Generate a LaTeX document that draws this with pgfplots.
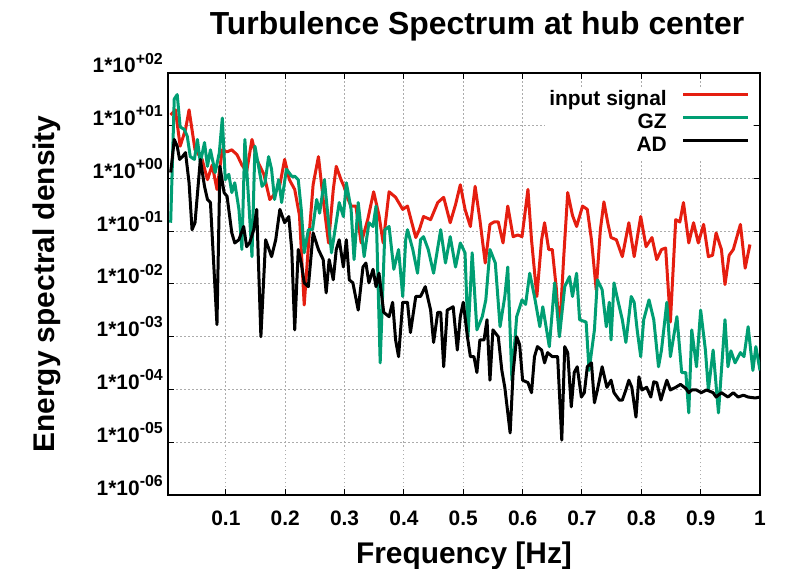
\documentclass[border=0pt]{standalone}
\usepackage{fontspec}
\setmainfont{Liberation Sans}
\usepackage{pgfplots}
\pgfplotsset{compat=1.18}
\definecolor{gpred}{HTML}{E51E10}
\definecolor{gpgreen}{HTML}{009E73}
\newcommand{\sups}[1]{\raisebox{0.42em}{\fontsize{16}{16}\selectfont\bfseries #1}}
\begin{document}
\begin{tikzpicture}[x=1bp,y=1bp]
\path[use as bounding box] (0,0) rectangle (793,569);
\node[font=\fontsize{32}{36}\selectfont\bfseries, anchor=base] at (477,534) {Turbulence Spectrum at hub center};
\begin{axis}[
  at={(168bp,74bp)}, anchor=south west,
  width=592bp, height=422bp, scale only axis,
  ymode=log, xmin=0.0025, xmax=1, ymin=1e-6, ymax=1e2,
  xtick={0.1,0.2,0.3,0.4,0.5,0.6,0.7,0.8,0.9,1},
  xticklabels={0.1,0.2,0.3,0.4,0.5,0.6,0.7,0.8,0.9,1},
  ytick={1e-6,1e-5,1e-4,1e-3,1e-2,1e-1,1,1e1,1e2},
  yticklabels={1*10\sups{-06},1*10\sups{-05},1*10\sups{-04},1*10\sups{-03},1*10\sups{-02},1*10\sups{-01},1*10\sups{+00},1*10\sups{+01},1*10\sups{+02}},
  yminorticks=false,
  xticklabel style={font=\fontsize{21}{24}\selectfont\bfseries, anchor=base, yshift=-30bp},
  yticklabel style={font=\fontsize{21}{24}\selectfont\bfseries, anchor=base east, inner sep=0pt, xshift=-5bp},
  xlabel={Frequency [Hz]},
  ylabel={Energy spectral density},
  xlabel style={font=\fontsize{30}{34}\selectfont\bfseries, at={(axis description cs:0.5,0)}, anchor=base, yshift=-68bp},
  ylabel style={font=\fontsize{30}{34}\selectfont\bfseries, at={(axis description cs:-0.192,0.5)}, anchor=base, rotate=0},
  axis line style={line width=2.5bp},
  major tick length=6bp,
  tick style={black, line width=1bp},
  grid=major,
  grid style={gray!65, line width=1bp, dash pattern=on 1.5bp off 2.5bp},
  legend plot pos=right,
  legend cell align=right,
  legend style={at={(rel axis cs:0.988,0.967)}, anchor=north east, draw=none, fill=white,
    font=\fontsize{21}{24}\selectfont\bfseries, column sep=14bp, row sep=1bp,
    nodes={inner sep=1bp, text height=15bp, text depth=5bp}},
  legend image code/.code={\draw[#1] (0bp,6bp) -- (65bp,6bp);},
  every axis plot/.append style={line width=3bp, line join=round, mark=none},
]
\addplot[gpred] coordinates {
(0.007,16) (0.015,20) (0.023,4.1) (0.032,8.5) (0.038,20) (0.048,3.5) (0.060,2.3) (0.069,0.95) (0.077,1.8) (0.085,0.62) (0.094,3.5) (0.102,3.2) (0.110,3.5) (0.119,2.8) (0.127,1.8) (0.135,1.35) (0.144,5.5) (0.152,2.3) (0.164,1.2) (0.174,0.4) (0.181,0.49) (0.191,0.76) (0.199,2.3) (0.207,0.95) (0.216,0.62) (0.224,0.2) (0.232,0.004) (0.241,0.107) (0.247,0.76) (0.256,2.6) (0.264,0.4) (0.273,0.06) (0.281,0.62) (0.286,1.7) (0.294,0.95) (0.299,0.71) (0.306,0.4) (0.311,0.3) (0.319,0.3) (0.328,0.06) (0.339,0.166) (0.349,0.56) (0.358,0.2) (0.365,0.06) (0.375,0.56) (0.386,0.44) (0.398,0.26) (0.406,0.3) (0.413,0.15) (0.420,0.076) (0.426,0.107) (0.433,0.19) (0.445,0.166) (0.457,0.35) (0.467,0.44) (0.478,0.145) (0.487,0.32) (0.495,0.76) (0.503,0.26) (0.512,0.123) (0.520,0.71) (0.528,0.166) (0.537,0.025) (0.545,0.135) (0.552,0.15) (0.559,0.15) (0.567,0.06) (0.575,0.3) (0.584,0.079) (0.592,0.085) (0.599,0.079) (0.609,0.62) (0.615,0.069) (0.624,0.0058) (0.632,0.069) (0.637,0.145) (0.644,0.045) (0.650,0.045) (0.657,0.0078) (0.662,0.0011) (0.669,0.029) (0.676,0.54) (0.684,0.2) (0.691,0.123) (0.701,0.3) (0.709,0.26) (0.716,0.069) (0.724,0.0078) (0.731,0.107) (0.737,0.36) (0.744,0.135) (0.749,0.076) (0.758,0.069) (0.768,0.033) (0.779,0.145) (0.788,0.033) (0.799,0.19) (0.808,0.051) (0.818,0.076) (0.826,0.029) (0.834,0.045) (0.841,0.048) (0.849,0.0019) (0.858,0.166) (0.865,0.15) (0.871,0.35) (0.880,0.06) (0.888,0.145) (0.896,0.06) (0.905,0.135) (0.913,0.033) (0.920,0.035) (0.926,0.093) (0.935,0.045) (0.941,0.0098) (0.948,0.035) (0.955,0.045) (0.967,0.135) (0.975,0.02) (0.983,0.056)
};
\addlegendentry{input signal}
\addplot[gpgreen] coordinates {
(0.007,0.145) (0.013,32) (0.018,39) (0.023,9.5) (0.030,8.5) (0.035,6.3) (0.040,2.6) (0.047,2.3) (0.052,5.5) (0.057,2.0) (0.064,4.8) (0.069,1.7) (0.074,3.5) (0.082,1.3) (0.089,3.1) (0.094,14) (0.099,0.95) (0.105,1.2) (0.110,0.54) (0.115,0.83) (0.122,0.26) (0.127,0.045) (0.132,5.5) (0.139,0.3) (0.144,0.033) (0.149,4.1) (0.156,1.5) (0.161,0.71) (0.166,0.83) (0.172,2.6) (0.177,1.5) (0.182,0.4) (0.189,0.95) (0.194,0.35) (0.202,1.5) (0.211,1.1) (0.216,1.1) (0.222,0.95) (0.227,0.26) (0.232,0.039) (0.239,0.107) (0.246,0.107) (0.253,0.4) (0.258,0.22) (0.266,0.95) (0.278,0.039) (0.291,0.35) (0.298,0.19) (0.303,0.83) (0.311,0.26) (0.316,0.029) (0.323,0.35) (0.328,0.107) (0.333,0.033) (0.341,0.145) (0.348,0.123) (0.353,0.3) (0.360,0.00032) (0.368,0.107) (0.375,0.123) (0.383,0.019) (0.391,0.045) (0.398,0.0058) (0.403,0.069) (0.406,0.107) (0.415,0.045) (0.423,0.016) (0.428,0.069) (0.433,0.079) (0.441,0.045) (0.450,0.016) (0.462,0.107) (0.470,0.025) (0.478,0.079) (0.487,0.021) (0.495,0.06) (0.503,0.039) (0.508,0.001) (0.515,0.039) (0.523,0.00135) (0.532,0.0024) (0.538,0.005) (0.545,0.045) (0.554,0.025) (0.562,0.00155) (0.570,0.0058) (0.575,0.021) (0.582,0.00015) (0.590,0.0024) (0.599,0.005) (0.605,0.0041) (0.612,0.016) (0.620,0.0058) (0.629,0.00155) (0.634,0.0037) (0.645,0.00065) (0.654,0.0105) (0.662,0.001) (0.671,0.0089) (0.679,0.0138) (0.684,0.0058) (0.691,0.016) (0.696,0.0021) (0.707,0.0019) (0.712,0.00023) (0.721,0.00135) (0.726,0.012) (0.734,0.0078) (0.741,0.00155) (0.746,0.0045) (0.749,0.00087) (0.754,0.0105) (0.759,0.0058) (0.768,0.0021) (0.774,0.00078) (0.783,0.0058) (0.788,0.0045) (0.793,0.00135) (0.799,0.00042) (0.804,0.0021) (0.813,0.005) (0.821,0.0021) (0.829,0.00027) (0.834,0.00056) (0.843,0.0045) (0.849,0.00042) (0.860,0.0024) (0.868,0.00021) (0.875,0.00021) (0.880,0.000036) (0.885,0.00135) (0.893,0.00027) (0.900,0.0032) (0.908,0.00056) (0.913,0.000098) (0.921,0.00056) (0.930,0.000036) (0.941,0.0021) (0.946,0.00027) (0.951,0.00054) (0.958,0.00032) (0.967,0.0005) (0.973,0.00042) (0.980,0.00155) (0.988,0.00023) (0.993,0.00065) (1.0,0.00023)
};
\addlegendentry{GZ}
\addplot[black] coordinates {
(0.007,1.3) (0.010,2.6) (0.013,5.5) (0.018,4.1) (0.022,2.3) (0.027,2.6) (0.032,3.1) (0.038,0.83) (0.043,0.107) (0.048,0.145) (0.057,2.3) (0.064,0.71) (0.069,0.4) (0.074,0.35) (0.080,0.019) (0.085,0.0017) (0.090,1.7) (0.097,0.54) (0.102,0.46) (0.110,0.093) (0.115,0.06) (0.122,0.069) (0.130,0.123) (0.135,0.051) (0.140,0.06) (0.147,0.107) (0.152,0.26) (0.159,0.001) (0.167,0.069) (0.177,0.033) (0.184,0.069) (0.191,0.26) (0.199,0.145) (0.206,0.19) (0.211,0.045) (0.216,0.00135) (0.222,0.045) (0.227,0.025) (0.232,0.0105) (0.239,0.0089) (0.247,0.093) (0.256,0.045) (0.264,0.029) (0.269,0.0068) (0.274,0.029) (0.281,0.012) (0.286,0.045) (0.291,0.069) (0.298,0.021) (0.303,0.069) (0.308,0.012) (0.314,0.0105) (0.323,0.0032) (0.331,0.021) (0.336,0.025) (0.341,0.0105) (0.348,0.019) (0.353,0.0089) (0.358,0.016) (0.366,0.0029) (0.375,0.0024) (0.381,0.0045) (0.386,0.00087) (0.391,0.00042) (0.398,0.0045) (0.406,0.0045) (0.411,0.0012) (0.420,0.0058) (0.428,0.0058) (0.436,0.0089) (0.445,0.0032) (0.450,0.00078) (0.457,0.0029) (0.462,0.0029) (0.467,0.00027) (0.473,0.0032) (0.483,0.0037) (0.490,0.00056) (0.495,0.0024) (0.500,0.0045) (0.507,0.001) (0.512,0.00042) (0.518,0.00042) (0.523,0.00021) (0.528,0.00087) (0.535,0.00087) (0.540,0.0021) (0.545,0.00015) (0.550,0.00135) (0.559,0.001) (0.565,0.00023) (0.570,0.00011) (0.579,0.000015) (0.584,0.00021) (0.590,0.001) (0.595,0.00071) (0.600,0.00015) (0.609,0.000135) (0.615,0.000087) (0.620,0.00042) (0.625,0.00065) (0.632,0.00056) (0.637,0.00032) (0.642,0.0005) (0.650,0.00042) (0.659,0.00042) (0.666,0.000011) (0.671,0.00065) (0.676,0.0005) (0.682,0.000047) (0.687,0.00021) (0.692,0.00027) (0.699,0.000072) (0.704,0.000087) (0.709,0.00027) (0.716,0.00032) (0.721,0.000056) (0.726,0.000098) (0.734,0.00027) (0.742,0.00011) (0.749,0.00015) (0.754,0.000087) (0.763,0.000063) (0.768,0.000063) (0.774,0.000098) (0.779,0.00015) (0.784,0.00011) (0.791,0.00003) (0.796,0.000174) (0.801,0.000098) (0.809,0.00011) (0.816,0.000072) (0.821,0.00014) (0.826,0.000135) (0.833,0.000063) (0.838,0.000098) (0.843,0.00015) (0.849,0.000098) (0.858,0.00011) (0.866,0.000125) (0.875,0.000105) (0.880,0.000087) (0.885,0.000098) (0.893,0.000098) (0.901,0.000087) (0.910,0.000098) (0.921,0.000087) (0.926,0.000072) (0.935,0.000087) (0.946,0.000072) (0.955,0.000087) (0.963,0.000072) (0.972,0.000078) (0.980,0.000072) (0.992,0.000069) (1.0,0.000072)
};
\addlegendentry{AD}
\end{axis}
\end{tikzpicture}
\end{document}
